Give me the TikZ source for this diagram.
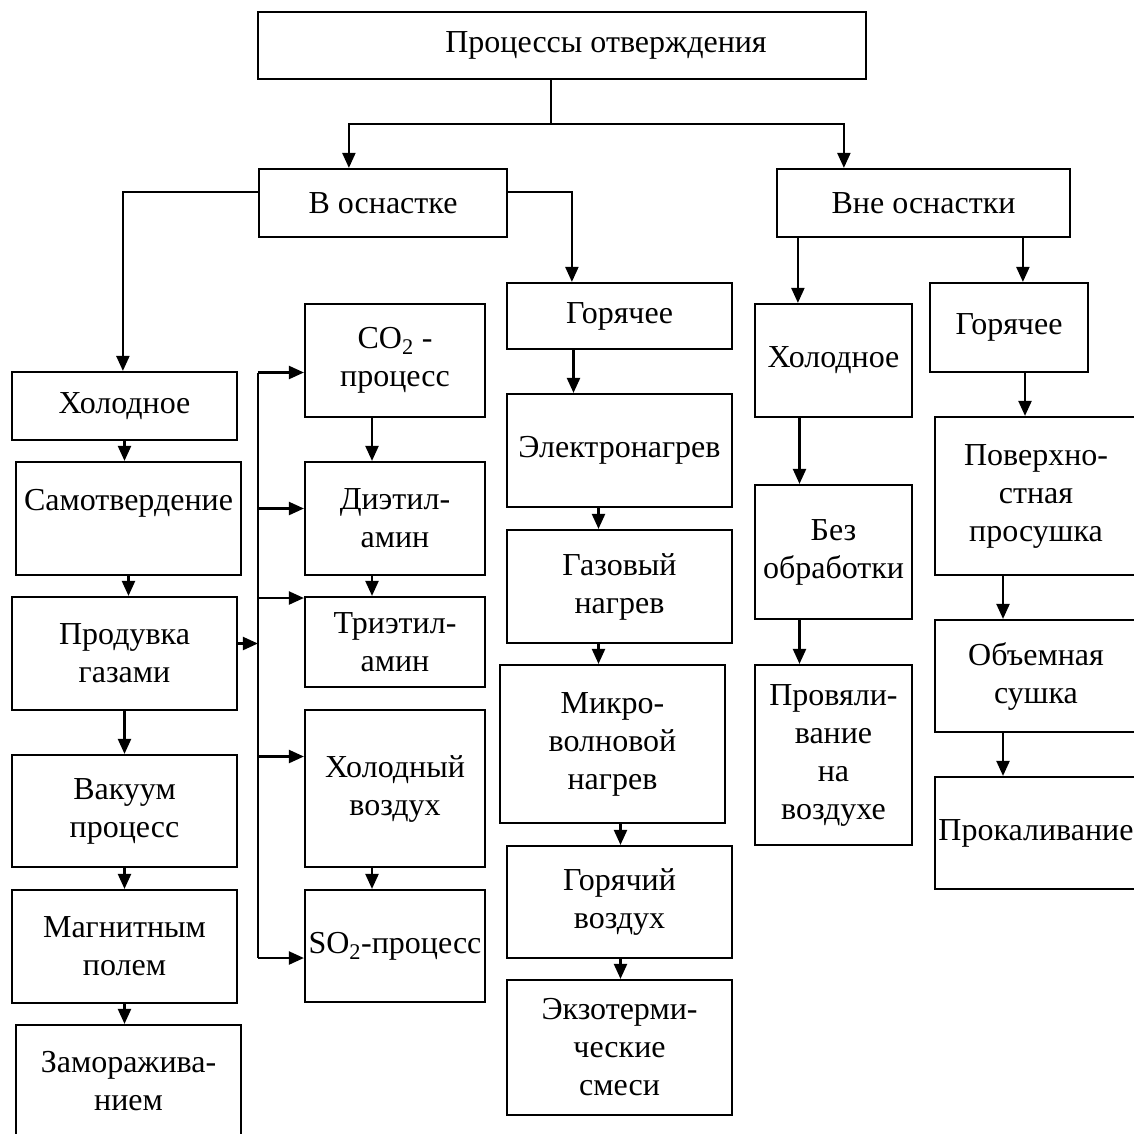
\documentclass[tikz,border=0pt]{standalone}
\usepackage{fontspec}
\setmainfont{Liberation Serif}
\usepackage{tikz}
\usetikzlibrary{positioning, arrows.meta}

\begin{document}
\begin{tikzpicture}[x=1pt, y=-1pt,
  blok/.style={draw, line width=2.2pt, inner sep=2pt, align=center,
    font=\fontsize{32pt}{38pt}\selectfont},
  liniya/.style={line width=2.2pt},
  strelka/.style={liniya, -{Triangle[length=15pt, width=13pt]}}]
  \fill[white] (0,0) rectangle (1134,1133);
  \useasboundingbox (0,0) rectangle (1134,1133);

  % верхний уровень
  \node[blok, minimum width=608, minimum height=67] (proc) at (562,45.5) {\hspace*{88pt}Процессы отверждения};
  \node[blok, minimum width=248, minimum height=68] (vosn) at (383,203) {В оснастке};
  \node[blok, minimum width=293, minimum height=68] (vne) at (923.5,203) {Вне оснастки};

  % холодное в оснастке
  \node[blok, minimum width=225, minimum height=68] (xol1) at (124.5,406) {Холодное};
  \node[blok, minimum width=225, minimum height=113] (samo) at (128.5,518.5) {Самотвердение\\~};
  \node[blok, minimum width=225, minimum height=113] (prod) at (124.5,653.5) {Продувка\\газами};
  \node[blok, minimum width=225, minimum height=112] (vak) at (124.5,811) {Вакуум\\процесс};
  \node[blok, minimum width=225, minimum height=113] (magn) at (124.5,946.5) {Магнитным\\полем};
  \node[blok, minimum width=225, minimum height=112] (zam) at (128.5,1081) {Заморажива-\\нием};

  % продувка газами
  \node[blok, minimum width=180, minimum height=113] (co2) at (395,360.5) {CO\textsubscript{2} -\\процесс};
  \node[blok, minimum width=180, minimum height=113] (diet) at (395,518.5) {Диэтил-\\амин};
  \node[blok, minimum width=180, minimum height=90] (triet) at (395,642) {Триэтил-\\амин};
  \node[blok, minimum width=180, minimum height=157] (xvoz) at (395,788.5) {Холодный\\воздух};
  \node[blok, minimum width=180, minimum height=112] (so2) at (395,946) {SO\textsubscript{2}-процесс};

  % горячее в оснастке
  \node[blok, minimum width=225, minimum height=66] (gor1) at (619.5,316) {Горячее};
  \node[blok, minimum width=225, minimum height=113] (elek) at (619.5,450.5) {Электронагрев};
  \node[blok, minimum width=225, minimum height=113] (gaz) at (619.5,586.5) {Газовый\\нагрев};
  \node[blok, minimum width=225, minimum height=158] (mikro) at (612.5,744) {Микро-\\волновой\\нагрев};
  \node[blok, minimum width=225, minimum height=112] (gorv) at (619.5,902) {Горячий\\воздух};
  \node[blok, minimum width=225, minimum height=135] (ekzo) at (619.5,1047.5) {Экзотерми-\\ческие\\смеси};

  % вне оснастки
  \node[blok, minimum width=157, minimum height=113] (xol2) at (833.5,360.5) {Холодное};
  \node[blok, minimum width=157, minimum height=134] (bez) at (833.5,552) {Без\\обработки};
  \node[blok, minimum width=157, minimum height=180] (prov) at (833.5,755) {Провяли-\\вание\\на\\воздухе};
  \node[blok, minimum width=158, minimum height=89] (gor2) at (1009,327.5) {Горячее};
  \node[blok, minimum width=202, minimum height=158] (pov) at (1036,496) {Поверхно-\\стная\\просушка};
  \node[blok, minimum width=202, minimum height=112] (obem) at (1036,676) {Объемная\\сушка};
  \node[blok, minimum width=202, minimum height=112] (prok) at (1036,833) {Прокаливание};

  % разветвление сверху
  \coordinate (razv) at ([xshift=-11pt]proc.south |- 0,124);
  \draw[liniya] ([xshift=-11pt]proc.south) -- (razv);
  \draw[strelka] (razv) -| ([xshift=91pt]vosn.north west);
  \draw[strelka] (razv) -| ([xshift=68pt]vne.north west);
  \draw[strelka] ([yshift=11pt]vosn.west) -| ([xshift=112pt]xol1.north west);
  \draw[strelka] ([yshift=11pt]vosn.east) -| ([xshift=66pt]gor1.north west);
  \draw[strelka] ([xshift=22pt]vne.south west) -- ([xshift=22pt]vne.south west |- xol2.north);
  \draw[strelka] ([xshift=247pt]vne.south west) -- ([xshift=247pt]vne.south west |- gor2.north);

  % левый столбец
  \foreach \a/\b in {xol1/samo, samo/prod, prod/vak, vak/magn, magn/zam}
    \draw[strelka] (\a.south) -- (\a.south |- \b.north);

  % шина газов
  \coordinate (shinaverh) at ([xshift=-46pt, yshift=-12pt]co2.west);
  \coordinate (shinaniz) at ([xshift=-46pt, yshift=-12pt]so2.west);
  \draw[liniya] (shinaverh) -- (shinaniz);
  \draw[strelka] ([yshift=10pt]prod.east) -- ([yshift=10pt]prod.east -| shinaverh);
  \foreach \n/\dy in {co2/-12, diet/10, triet/44, xvoz/32, so2/-12}
    \draw[strelka] ([xshift=-46pt, yshift=\dy pt]\n.west) -- ([yshift=\dy pt]\n.west);
  \foreach \a/\b in {co2/diet, diet/triet, xvoz/so2}
    \draw[strelka] ([xshift=-23pt]\a.south) -- ([xshift=-23pt]\a.south |- \b.north);

  % горячее в оснастке
  \foreach \a/\b/\dx in {gor1/elek/-46, elek/gaz/-21, gaz/mikro/-21, mikro/gorv/8, gorv/ekzo/1}
    \draw[strelka] ([xshift=\dx pt]\a.south) -- ([xshift=\dx pt]\a.south |- \b.north);

  % вне оснастки
  \foreach \a/\b/\dx in {xol2/bez/-34, bez/prov/-34, gor2/pov/16, pov/obem/-33, obem/prok/-33}
    \draw[strelka] ([xshift=\dx pt]\a.south) -- ([xshift=\dx pt]\a.south |- \b.north);
\end{tikzpicture}
\end{document}
